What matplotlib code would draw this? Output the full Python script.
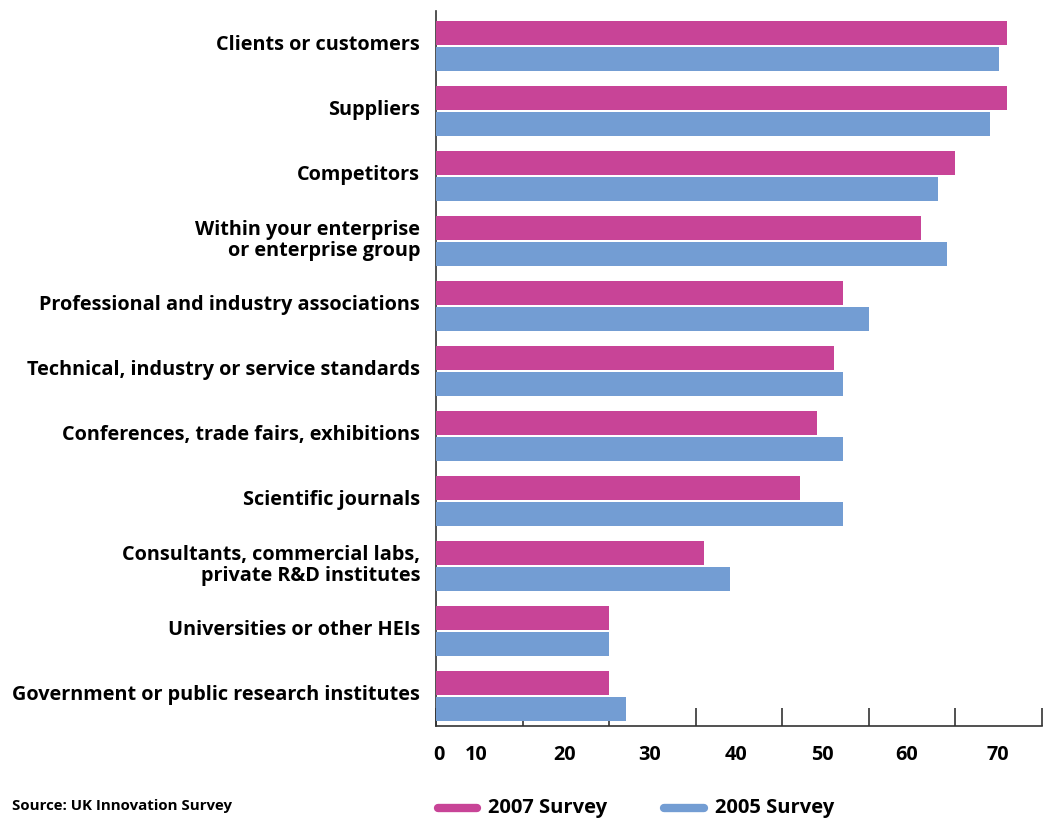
import matplotlib
matplotlib.use("Agg")
import matplotlib.pyplot as plt
from matplotlib.lines import Line2D
import numpy as np

plt.rcParams['font.family'] = ['Open Sans', 'DejaVu Sans']

categories = [
    "Clients or customers",
    "Suppliers",
    "Competitors",
    "Within your enterprise\nor enterprise group",
    "Professional and industry associations",
    "Technical, industry or service standards",
    "Conferences, trade fairs, exhibitions",
    "Scientific journals",
    "Consultants, commercial labs,\nprivate R&D institutes",
    "Universities or other HEIs",
    "Government or public research institutes",
]
survey_2007 = [66, 66, 60, 56, 47, 46, 44, 42, 31, 20, 20]
survey_2005 = [65, 64, 58, 59, 50, 47, 47, 47, 34, 20, 22]

tick_values = [0, 10, 20, 30, 40, 50, 60, 70]
tick_labels = ["0", "10", "20", "30", "40", "50", "60", "70"]
label_positions = [0.35, 4.7, 14.9, 24.7, 34.6, 44.6, 54.4, 64.9]

pink = "#C84497"
blue = "#739DD3"

W, H = 1048, 818
fig = plt.figure(figsize=(W / 100, H / 100), dpi=100)
ax = fig.add_axes([436 / W, 1 - 726 / H, (1042 - 436) / W, (726 - 11) / H])

y = np.arange(len(categories))
bh = 24 / 65
gap = 2 / 65
ax.barh(y - (bh + gap) / 2, survey_2007, height=bh, color=pink, zorder=2)
ax.barh(y + (bh + gap) / 2, survey_2005, height=bh, color=blue, zorder=2)

ax.set_xlim(0, 70)
ax.set_ylim(10 + 30 / 65, -35 / 65)

for s in ("top", "right"):
    ax.spines[s].set_visible(False)
for s in ("left", "bottom"):
    ax.spines[s].set_color("#333333")
    ax.spines[s].set_linewidth(1.2)
    ax.spines[s].set_zorder(1)

# category names, right-aligned against the value axis
ax.set_yticks(y)
ax.set_yticklabels([])
ax.tick_params(axis="y", length=0)
for yi, name in zip(y, categories):
    ax.annotate(name, xy=(0, yi), xycoords=("axes fraction", "data"),
                xytext=(-11.5, 0.6), textcoords="offset points",
                ha="right", va="center", fontsize=14.3, fontweight="bold",
                linespacing=1.05)

ax.set_xticks(label_positions, tick_labels, fontsize=14.3, fontweight="bold")
ax.tick_params(axis="x", which="major", length=0, pad=13.5)
ax.set_xticks(tick_values, minor=True)
ax.tick_params(axis="x", which="minor", direction="in", length=13, width=1.2, color="#333333")

fig.text(12 / W, 1 - 806 / H, "Source: UK Innovation Survey", fontsize=10.8,
         fontweight="bold", va="center", ha="left")

ly = 1 - 808 / H
for x0, x1, col, lab in [(438, 477, pink, "2007 Survey"), (664, 704, blue, "2005 Survey")]:
    fig.add_artist(Line2D([x0 / W, x1 / W], [ly, ly], color=col, linewidth=6,
                          solid_capstyle="round", transform=fig.transFigure))
    fig.text((x1 + 11) / W, ly, lab, fontsize=14.5, fontweight="bold",
             va="center", ha="left")

fig.savefig("out.png", dpi=100, facecolor="white")
